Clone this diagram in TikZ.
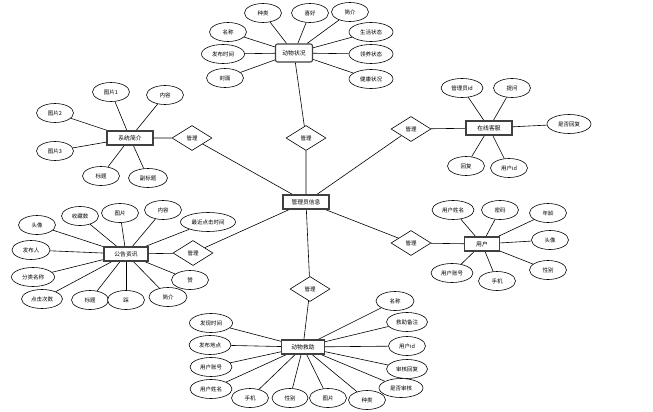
\documentclass[tikz,border=0pt]{standalone}
\usepackage{fontspec}
\newfontfamily\cjk{Noto Sans CJK SC}
\usetikzlibrary{shapes.geometric}
\pgfdeclarelayer{bg}
\pgfsetlayers{bg,main}
\tikzset{
  attr/.style={ellipse,draw=black,fill=white,line width=0.6pt,minimum width=37pt,minimum height=19pt,inner sep=0pt,font=\cjk\fontsize{5.5}{6}\selectfont},
  ent/.style={rectangle,draw=black!75,line width=1.1pt,fill=white,inner sep=0pt,minimum height=14pt,font=\cjk\fontsize{5.8}{6}\selectfont},
  rel/.style={diamond,draw=black,fill=white,line width=0.6pt,minimum width=40pt,minimum height=25pt,inner sep=0pt,font=\cjk\fontsize{5.5}{6}\selectfont},
  ln/.style={draw=black,line width=0.6pt}
}
\begin{document}
\begin{tikzpicture}[x=1pt,y=-1pt]
\useasboundingbox (0,0) rectangle (653,412);
% centre
\node[ent,minimum width=46pt] (admin) at (306,202) {管理员信息};
% top entity
\node[ent,minimum width=37pt,minimum height=18pt,rounded corners=2pt] (dw) at (294,53) {动物状况};
\node[rel] (r1) at (306,138) {管理};
\node[attr] (a1) at (263,13) {种类};
\node[attr] (a2) at (310,13) {喜好};
\node[attr] (a3) at (350,12) {简介};
\node[attr,minimum width=44pt] (a4) at (371,32) {生活状态};
\node[attr,minimum width=44pt] (a5) at (371,54) {领养状态};
\node[attr,minimum width=44pt] (a6) at (371,79) {健康状况};
\node[attr] (a7) at (228,32) {名称};
\node[attr,minimum width=43pt] (a8) at (223,54) {发布时间};
\node[attr] (a9) at (225,78) {封面};
% online service
\node[ent,minimum width=46pt] (kf) at (489,128) {在线客服};
\node[rel] (r2) at (411,129) {管理};
\node[attr,minimum width=42pt] (b1) at (462,88) {管理员id};
\node[attr] (b2) at (512,88) {提问};
\node[attr,minimum width=44pt] (b3) at (569,124) {是否回复};
\node[attr] (b4) at (466,166) {回复};
\node[attr] (b5) at (509,168) {用户id};
% user
\node[ent,minimum width=35pt] (yh) at (482,244) {用户};
\node[rel] (r3) at (411,243) {管理};
\node[attr,minimum width=42pt] (c1) at (453,210) {用户姓名};
\node[attr] (c2) at (500,210) {密码};
\node[attr] (c3) at (548,213) {年龄};
\node[attr] (c4) at (550,240) {头像};
\node[attr] (c5) at (548,270) {性别};
\node[attr] (c6) at (497,281) {手机};
\node[attr,minimum width=42pt] (c7) at (452,273) {用户账号};
% system intro
\node[ent,minimum width=46pt] (xt) at (130,138) {系统简介};
\node[rel] (r4) at (192,138) {管理};
\node[attr] (d1) at (111,92) {图片1};
\node[attr] (d2) at (165,95) {内容};
\node[attr] (d3) at (55,113) {图片2};
\node[attr] (d4) at (55,151) {图片3};
\node[attr] (d5) at (101,176) {标题};
\node[attr,minimum width=39pt] (d6) at (148,178) {副标题};
% notice
\node[ent,minimum width=44pt] (gg) at (126,254) {公告资讯};
\node[rel] (r5) at (193,253) {管理};
\node[attr] (e1) at (80,216) {收藏数};
\node[attr] (e2) at (120,213) {图片};
\node[attr] (e3) at (163,210) {内容};
\node[attr,minimum width=55pt] (e4) at (208,222) {最近点击时间};
\node[attr] (e5) at (37,225) {头像};
\node[attr,minimum width=38pt] (e6) at (31,250) {发布人};
\node[attr,minimum width=43pt] (e7) at (33,277) {分类名称};
\node[attr,minimum width=41pt] (e8) at (42,299) {点击次数};
\node[attr] (e9) at (90,300) {标题};
\node[attr] (e10) at (126,300) {踩};
\node[attr,minimum width=38pt] (e11) at (168,297) {简介};
\node[attr] (e12) at (190,280) {赞};
% rescue
\node[ent,minimum width=43pt] (jz) at (303,347) {动物救助};
\node[rel] (r6) at (310,289) {管理};
\node[attr,minimum width=43pt] (f1) at (211,323) {发现时间};
\node[attr,minimum width=42pt] (f2) at (210,345) {发布地点};
\node[attr,minimum width=42pt] (f3) at (211,367) {用户账号};
\node[attr,minimum width=42pt] (f4) at (211,389) {用户姓名};
\node[attr] (f5) at (250,398) {手机};
\node[attr,minimum width=36pt] (f6) at (290,398) {性别};
\node[attr] (f7) at (328,398) {图片};
\node[attr] (f8) at (367,400) {种类};
\node[attr,minimum width=38pt] (f9) at (395,301) {名称};
\node[attr,minimum width=41pt] (f10) at (407,322) {救助备注};
\node[attr] (f11) at (407,346) {用户id};
\node[attr,minimum width=41pt] (f12) at (407,369) {审核回复};
\node[attr,minimum width=44pt] (f13) at (401,388) {是否审核};
\begin{pgfonlayer}{bg}
\fill[white] (0,0) rectangle (653,412);
\foreach \a in {a1,a2,a3,a4,a5,a6,a7,a8,a9} \draw[ln] (dw) -- (\a);
\draw[ln] (dw) -- (r1) -- (admin);
\foreach \a in {b1,b2,b3,b4,b5} \draw[ln] (kf) -- (\a);
\draw[ln] (kf) -- (r2) -- (admin);
\foreach \a in {c1,c2,c3,c4,c5,c6,c7} \draw[ln] (yh) -- (\a);
\draw[ln] (yh) -- (r3) -- (admin);
\foreach \a in {d1,d2,d3,d4,d5,d6} \draw[ln] (xt) -- (\a);
\draw[ln] (xt) -- (r4) -- (admin);
\foreach \a in {e1,e2,e3,e4,e5,e6,e7,e8,e9,e10,e11,e12} \draw[ln] (gg) -- (\a);
\draw[ln] (gg) -- (r5) -- (admin);
\foreach \a in {f1,f2,f3,f4,f5,f6,f7,f8,f9,f10,f11,f12,f13} \draw[ln] (jz) -- (\a);
\draw[ln] (jz) -- (r6) -- (admin);
\end{pgfonlayer}
\end{tikzpicture}
\end{document}
